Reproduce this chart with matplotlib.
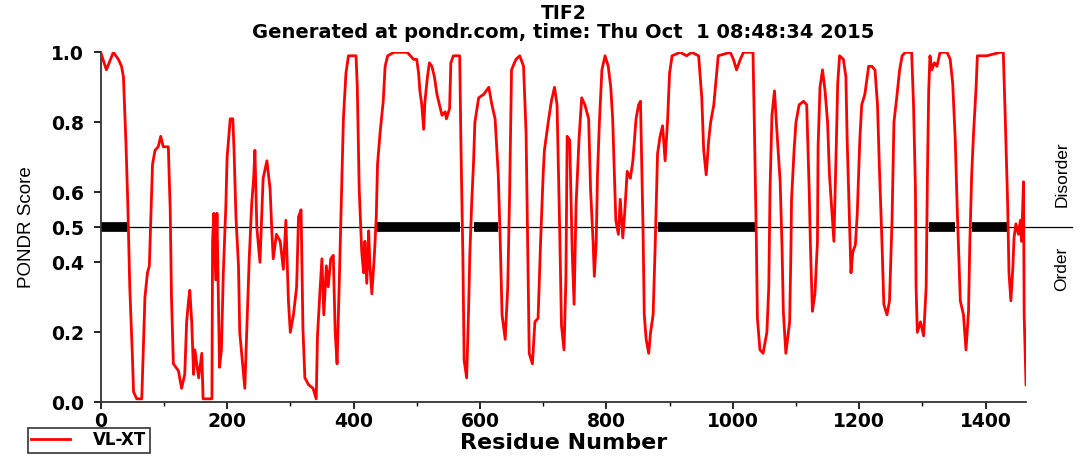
import matplotlib
matplotlib.use("Agg")
import matplotlib.pyplot as plt

# PONDR VL-XT scores for TIF2
residue = [0, 9, 20, 28, 33, 36, 40, 43, 46, 50, 52, 57, 65, 68, 70, 74, 77, 79, 82, 86,
           91, 95, 99, 107, 110, 112, 115, 123, 128, 133, 136, 139, 141, 144, 147, 149, 155, 160, 162, 176,
           177, 179, 182, 184, 188, 191, 194, 198, 200, 205, 209, 211, 214, 218, 220, 226, 228, 231, 235, 239,
           242, 244, 247, 252, 257, 263, 268, 271, 273, 278, 284, 289, 293, 297, 300, 305, 310, 313, 317, 320,
           323, 329, 336, 341, 343, 347, 350, 353, 357, 360, 364, 368, 371, 374, 378, 381, 384, 388, 392, 404,
           406, 409, 413, 416, 418, 421, 424, 426, 429, 433, 436, 438, 442, 447, 450, 454, 464, 485, 495, 500,
           503, 505, 508, 511, 513, 517, 520, 524, 528, 532, 536, 540, 545, 547, 552, 554, 558, 568, 570, 573,
           575, 579, 582, 584, 587, 590, 592, 598, 606, 614, 619, 624, 629, 632, 635, 640, 644, 647, 650, 657,
           663, 669, 673, 675, 678, 683, 687, 692, 696, 700, 702, 708, 713, 718, 722, 726, 729, 733, 736, 738,
           742, 746, 749, 752, 757, 761, 766, 772, 775, 779, 781, 784, 786, 789, 793, 798, 803, 807, 810, 812,
           815, 819, 822, 826, 829, 833, 838, 842, 847, 851, 854, 858, 860, 863, 867, 870, 874, 877, 881, 885,
           889, 893, 897, 900, 904, 917, 927, 935, 946, 951, 954, 958, 962, 965, 970, 974, 977, 996, 1001, 1006,
           1012, 1017, 1032, 1034, 1037, 1039, 1043, 1048, 1054, 1057, 1059, 1062, 1066, 1070, 1075, 1078, 1080, 1084, 1090, 1092,
           1093, 1097, 1100, 1105, 1112, 1117, 1121, 1123, 1126, 1130, 1134, 1135, 1138, 1142, 1146, 1150, 1153, 1157, 1160, 1164,
           1166, 1169, 1175, 1179, 1181, 1185, 1187, 1190, 1194, 1197, 1201, 1204, 1209, 1215, 1220, 1225, 1229, 1232, 1236, 1239,
           1244, 1248, 1252, 1255, 1260, 1264, 1268, 1273, 1283, 1286, 1289, 1290, 1292, 1297, 1302, 1306, 1308, 1310, 1312, 1315,
           1319, 1323, 1328, 1339, 1344, 1348, 1352, 1355, 1360, 1365, 1369, 1373, 1375, 1378, 1381, 1385, 1387, 1402, 1423, 1428,
           1431, 1435, 1437, 1440, 1443, 1445, 1448, 1452, 1455, 1457, 1460, 1461, 1464]
score = [1.00, 0.95, 1.00, 0.98, 0.96, 0.93, 0.74, 0.56, 0.33, 0.14, 0.03, 0.01, 0.01, 0.18, 0.30, 0.37, 0.39, 0.51, 0.68, 0.72,
         0.73, 0.76, 0.73, 0.73, 0.55, 0.30, 0.11, 0.09, 0.04, 0.08, 0.23, 0.29, 0.32, 0.23, 0.08, 0.15, 0.07, 0.14, 0.01, 0.01,
         0.46, 0.54, 0.35, 0.54, 0.10, 0.15, 0.37, 0.56, 0.70, 0.81, 0.81, 0.72, 0.53, 0.39, 0.20, 0.08, 0.04, 0.20, 0.41, 0.57,
         0.64, 0.72, 0.50, 0.40, 0.64, 0.69, 0.61, 0.48, 0.41, 0.48, 0.46, 0.38, 0.52, 0.29, 0.20, 0.25, 0.33, 0.53, 0.55, 0.21,
         0.07, 0.05, 0.04, 0.01, 0.19, 0.32, 0.41, 0.25, 0.39, 0.33, 0.41, 0.42, 0.20, 0.11, 0.38, 0.60, 0.81, 0.94, 0.99, 0.99,
         0.90, 0.61, 0.43, 0.37, 0.46, 0.34, 0.49, 0.39, 0.31, 0.42, 0.53, 0.68, 0.77, 0.86, 0.96, 0.99, 1.00, 1.00, 0.98, 0.98,
         0.94, 0.89, 0.85, 0.78, 0.86, 0.93, 0.97, 0.96, 0.93, 0.88, 0.85, 0.82, 0.83, 0.81, 0.84, 0.97, 0.99, 0.99, 0.73, 0.42,
         0.12, 0.07, 0.26, 0.42, 0.57, 0.69, 0.80, 0.87, 0.88, 0.90, 0.85, 0.81, 0.65, 0.47, 0.25, 0.18, 0.33, 0.60, 0.95, 0.98,
         0.99, 0.96, 0.77, 0.51, 0.14, 0.11, 0.23, 0.24, 0.46, 0.65, 0.72, 0.80, 0.86, 0.90, 0.85, 0.51, 0.22, 0.15, 0.35, 0.76,
         0.75, 0.43, 0.28, 0.56, 0.76, 0.87, 0.85, 0.81, 0.61, 0.46, 0.36, 0.46, 0.65, 0.80, 0.95, 0.99, 0.96, 0.90, 0.81, 0.69,
         0.52, 0.48, 0.58, 0.47, 0.54, 0.66, 0.64, 0.69, 0.81, 0.85, 0.86, 0.50, 0.25, 0.18, 0.14, 0.20, 0.25, 0.43, 0.71, 0.76,
         0.79, 0.69, 0.81, 0.94, 0.99, 1.00, 0.99, 1.00, 0.99, 0.87, 0.72, 0.65, 0.75, 0.80, 0.85, 0.93, 0.99, 1.00, 0.98, 0.95,
         0.98, 1.00, 1.00, 0.81, 0.50, 0.24, 0.15, 0.14, 0.20, 0.33, 0.61, 0.82, 0.89, 0.77, 0.63, 0.44, 0.26, 0.14, 0.23, 0.43,
         0.58, 0.72, 0.80, 0.85, 0.86, 0.85, 0.60, 0.44, 0.26, 0.31, 0.46, 0.73, 0.90, 0.95, 0.89, 0.80, 0.65, 0.54, 0.46, 0.75,
         0.91, 0.99, 0.98, 0.93, 0.75, 0.50, 0.37, 0.43, 0.45, 0.54, 0.75, 0.85, 0.88, 0.96, 0.96, 0.95, 0.85, 0.67, 0.46, 0.28,
         0.25, 0.29, 0.52, 0.80, 0.88, 0.95, 0.99, 1.00, 1.00, 0.85, 0.61, 0.33, 0.20, 0.23, 0.19, 0.33, 0.65, 0.89, 0.99, 0.95,
         0.97, 0.96, 1.00, 1.00, 0.98, 0.91, 0.75, 0.56, 0.29, 0.25, 0.15, 0.26, 0.45, 0.65, 0.77, 0.90, 0.99, 0.99, 1.00, 1.00,
         0.82, 0.56, 0.37, 0.29, 0.38, 0.47, 0.51, 0.48, 0.52, 0.46, 0.63, 0.25, 0.05]

# long disordered regions (start, end) marked on the 0.5 line
disorder_start = [0, 437, 590, 881, 1311, 1379]
disorder_end = [41, 568, 628, 1035, 1352, 1434]

y_ticks = [0.0, 0.2, 0.4, 0.5, 0.6, 0.8, 1.0]
x_major = list(range(0, 1401, 200))
x_minor = list(range(100, 1401, 200))

plt.rcParams['font.family'] = ['DejaVu Sans']

fig = plt.figure(figsize=(10.78, 4.58), dpi=100)
ax = fig.add_axes([0.0934, 0.1216, 0.8584, 0.7642])

ax.plot(residue, score, color='#ff0000', lw=2, label='VL-XT', zorder=3)

# threshold line, runs out past the right edge into the label area
ax.axhline(0.5, xmin=0, xmax=1.05, color='black', lw=0.9, clip_on=False, zorder=2)
ax.hlines([0.5] * len(disorder_start), disorder_start, disorder_end,
          color='black', lw=7, zorder=2)

ax.set_xlim(0, 1464)
ax.set_ylim(0, 1.0)
ax.set_yticks(y_ticks)
ax.set_yticklabels(['%.1f' % v for v in y_ticks])
ax.set_xticks(x_major)
ax.set_xticks(x_minor, minor=True)

for s in ['top', 'right']:
    ax.spines[s].set_visible(False)
for s in ['left', 'bottom']:
    ax.spines[s].set_linewidth(1.3)
    ax.spines[s].set_color('#333333')

ax.tick_params(axis='both', which='major', direction='out', length=5, width=1.2,
               labelsize=13.5, pad=2)
ax.tick_params(axis='y', which='major', pad=7)
ax.tick_params(axis='x', which='minor', direction='out', length=3, width=1.0)
for lab in ax.get_xticklabels() + ax.get_yticklabels():
    lab.set_fontweight('bold')

ax.set_xlabel('Residue Number', fontsize=16, fontweight='bold')
ax.xaxis.set_label_coords(0.5, -0.088)
ax.set_ylabel('PONDR Score', fontsize=13.5, fontfamily='Liberation Sans')
ax.yaxis.set_label_coords(-0.071, 0.5)

fig.text(0.5225, 0.97, 'TIF2', ha='center', va='center', fontsize=13.5, fontweight='bold')
fig.text(0.5225, 0.928, 'Generated at pondr.com, time: Thu Oct  1 08:48:34 2015',
         ha='center', va='center', fontsize=14, fontweight='bold')

fig.text(0.985, 0.62, 'Disorder', rotation=90, ha='center', va='center',
         fontsize=12.5, fontfamily='Liberation Sans')
fig.text(0.985, 0.413, 'Order', rotation=90, ha='center', va='center',
         fontsize=12.5, fontfamily='Liberation Sans')

leg = fig.legend(loc='lower left', bbox_to_anchor=(0.026, 0.012), borderaxespad=0,
                 frameon=True, fancybox=False, edgecolor='black', handlelength=2.3,
                 borderpad=0.2, handletextpad=1.4, prop={'weight': 'bold', 'size': 12})
leg.get_frame().set_linewidth(1.2)

fig.savefig('out.png', dpi=100)
